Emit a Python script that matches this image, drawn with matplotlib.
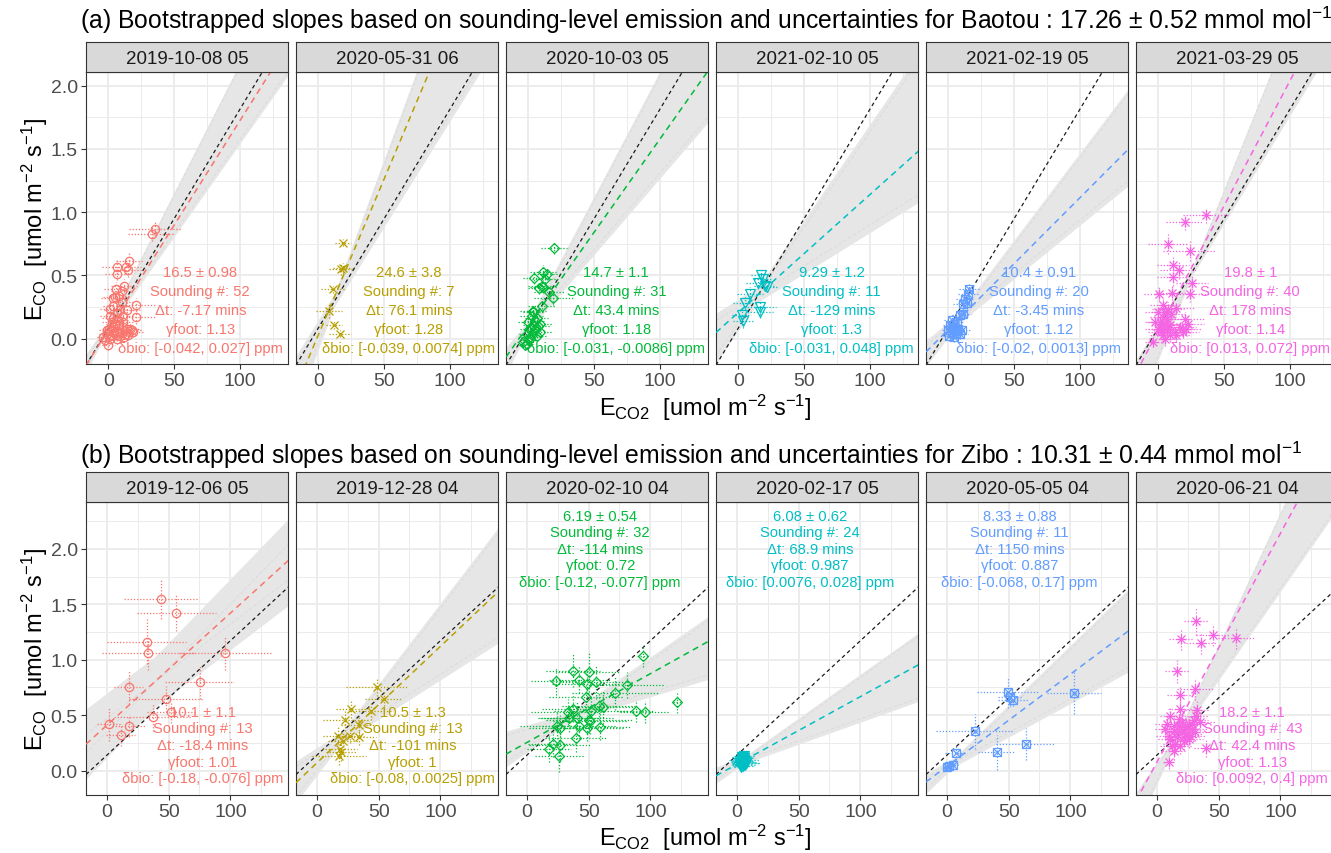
import numpy as np
import matplotlib.pyplot as plt

plt.rcParams['font.family'] = ['Liberation Sans', 'DejaVu Sans']
plt.rcParams['mathtext.fontset'] = 'custom'
plt.rcParams['mathtext.rm'] = 'Liberation Sans'
plt.rcParams['mathtext.it'] = 'Liberation Sans:italic'
plt.rcParams['mathtext.bf'] = 'Liberation Sans:bold'

# === facet labels ===
baotou_dates = ['2019-10-08 05', '2020-05-31 06', '2020-10-03 05',
                '2021-02-10 05', '2021-02-19 05', '2021-03-29 05']
zibo_dates = ['2019-12-06 05', '2019-12-28 04', '2020-02-10 04',
              '2020-02-17 05', '2020-05-05 04', '2020-06-21 04']

# === Baotou soundings (E_CO2, E_CO, and their uncertainties) ===
b1_x = [35.5, 33, 16, 6.9, 13.5, 15.2, 6.3, 12, 5.8, 10.2, 8.4, 3.3, 21, 3.8, 10.2, 21, 6.3, 1.3, 11.4, 2.5,
        5, 8.4, 11, 14, 17.8, 0.8, 3.8, 6.9, 10.2, 13.5, -1.3, 2.5, 5.8, 8.9, -2.5, 0, -3.8, 3.8, 7.6, 11.4,
        1.3, 8.9, 5, 14, 16.5, 19, 15, 12, 1.3, 6.9, -0.8, 3.3]
b1_y = [0.87, 0.83, 0.61, 0.57, 0.57, 0.545, 0.51, 0.42, 0.395, 0.38, 0.34, 0.32, 0.27, 0.26, 0.29, 0.17,
        0.2, 0.18, 0.18, 0.13, 0.12, 0.105, 0.09, 0.08, 0.066, 0.08, 0.066, 0.053, 0.053, 0.04, 0.04, 0.026,
        0.026, 0.02, -0.013, -0.053, 0.013, 0.092, 0.145, 0.13, 0.237, 0.224, 0.33, 0.23, 0.08, 0.053, 0.03,
        0.013, 0.0, 0.0, 0.066, 0.16]
b1_xerr = [20, 18, 10, 12, 11, 10, 9, 10, 9, 8, 8, 9, 15, 8, 9, 15, 7, 8, 8, 7, 7, 8, 8, 9, 8, 6, 7, 7, 8, 8,
           6, 7, 7, 8, 5, 5, 5, 7, 8, 8, 8, 12, 9, 10, 8, 8, 7, 7, 6, 7, 6, 8]
b1_yerr = [0.06, 0.06, 0.07, 0.06, 0.06, 0.06, 0.05, 0.05, 0.05, 0.05, 0.05, 0.05, 0.05, 0.05, 0.05, 0.05,
           0.05, 0.05, 0.05, 0.04, 0.04, 0.04, 0.04, 0.04, 0.04, 0.04, 0.04, 0.04, 0.04, 0.04, 0.04, 0.04,
           0.04, 0.04, 0.04, 0.04, 0.04, 0.04, 0.04, 0.04, 0.05, 0.05, 0.05, 0.05, 0.04, 0.04, 0.04, 0.04,
           0.04, 0.04, 0.04, 0.04]

b2_x = [19, 17, 18.5, 11.4, 8.1, 12.2, 16.5]
b2_y = [0.76, 0.55, 0.56, 0.39, 0.22, 0.11, 0.04]
b2_xerr = [6, 9, 7, 9, 10, 6, 8]
b2_yerr = [0.03, 0.05, 0.04, 0.03, 0.06, 0.03, 0.03]

b3_x = [19.5, 10.9, 14, 4.6, 10.1, 11.4, 16, 19, 10.1, 3.8, 2.5, 6.3, 0, 3.8, 7.6, 1.3, 5, 8.9, -1.3, 2.5,
        -3.8, -2.5, 6.3, 3.8, 8.9, 1.3, -1.3, 12.7, 8.4, 5, 0.8]
b3_y = [0.716, 0.53, 0.51, 0.48, 0.42, 0.41, 0.37, 0.32, 0.26, 0.22, 0.18, 0.163, 0.13, 0.11, 0.1, 0.08,
        0.066, 0.053, 0.04, 0.03, -0.026, -0.053, 0.02, 0.21, 0.118, 0.013, -0.04, 0.47, 0.4, 0.137, -0.013]
b3_xerr = [10, 10, 10, 9, 10, 10, 12, 15, 10, 10, 9, 9, 8, 8, 9, 8, 8, 9, 6, 7, 5, 5, 8, 8, 9, 7, 5, 10, 9, 8, 6]
b3_yerr = [0.05, 0.05, 0.05, 0.05, 0.05, 0.05, 0.05, 0.05, 0.05, 0.05, 0.05, 0.05, 0.05, 0.05, 0.05, 0.05,
           0.04, 0.04, 0.04, 0.04, 0.03, 0.03, 0.04, 0.05, 0.05, 0.04, 0.03, 0.05, 0.05, 0.05, 0.03]

b4_x = [17.3, 15.2, 20.3, 22, 19, 8.9, 5, 16.5, 16.5, 2.5, 3.8]
b4_y = [0.5, 0.44, 0.42, 0.41, 0.47, 0.355, 0.28, 0.25, 0.21, 0.184, 0.137]
b4_xerr = [8, 9, 8, 8, 7, 10, 9, 12, 10, 7, 8]
b4_yerr = [0.04, 0.05, 0.04, 0.04, 0.04, 0.05, 0.05, 0.05, 0.05, 0.05, 0.05]

b5_x = [16, 15.2, 12.7, 10.9, 14, 11.4, 8.9, 2.5, 6.3, 1.3, 3.8, 7.6, 0, 2.5, 5.8, 8.9, 0.8, 4.3, 6.9, 10.2]
b5_y = [0.395, 0.355, 0.316, 0.276, 0.28, 0.197, 0.184, 0.145, 0.13, 0.105, 0.092, 0.079, 0.066, 0.053,
        0.04, 0.04, 0.02, 0.013, 0.079, 0.066]
b5_xerr = [8, 8, 7, 7, 7, 6, 6, 6, 6, 5, 6, 6, 5, 5, 6, 6, 5, 5, 6, 7]
b5_yerr = [0.04, 0.04, 0.04, 0.04, 0.04, 0.04, 0.04, 0.04, 0.04, 0.04, 0.04, 0.04, 0.04, 0.04, 0.04,
           0.04, 0.04, 0.04, 0.04, 0.04]

b6_x = [36.4, 20.1, 7.5, 23.9, 11.3, 15.6, 11.3, 25.6, 0.8, 10.6, 23.9, 3.8, 7.5, 13.8, 0, 3.8, 6.3, 20.1,
        1.3, 5, 8.8, 16.3, 21.4, 2.5, 6.3, 12.6, 18.8, 3.8, 13.8, 5, -3.8, -2.5, 10, 2, 7.5, 22.6, 0, 8.8,
        4.5, 18]
b6_y = [0.974, 0.92, 0.75, 0.69, 0.584, 0.54, 0.487, 0.442, 0.355, 0.363, 0.353, 0.263, 0.237, 0.242,
        0.21, 0.17, 0.158, 0.158, 0.13, 0.118, 0.11, 0.092, 0.08, 0.08, 0.066, 0.053, 0.053, 0.026, 0.026,
        -0.005, -0.026, 0.13, 0.197, 0.053, 0.092, 0.118, 0.08, 0.026, 0.21, 0.074]
b6_xerr = [18, 14, 15, 20, 12, 14, 12, 12, 12, 12, 15, 10, 12, 14, 10, 10, 12, 15, 10, 10, 10, 12, 12, 10,
           10, 12, 12, 10, 10, 10, 6, 8, 12, 10, 10, 12, 10, 10, 10, 10]
b6_yerr = [0.06, 0.06, 0.08, 0.08, 0.07, 0.07, 0.07, 0.06, 0.06, 0.06, 0.06, 0.05, 0.05, 0.05, 0.05, 0.05,
           0.05, 0.05, 0.05, 0.05, 0.05, 0.05, 0.05, 0.05, 0.05, 0.05, 0.05, 0.05, 0.05, 0.05, 0.04, 0.04,
           0.05, 0.05, 0.05, 0.05, 0.05, 0.05, 0.05, 0.05]

# === Zibo soundings ===
z1_x = [44, 56.2, 32.4, 33.2, 96, 17.6, 75.1, 47.6, 52.2, 37.3, 1.6, 17.8, 11.1]
z1_y = [1.55, 1.42, 1.164, 1.06, 1.06, 0.75, 0.8, 0.647, 0.532, 0.48, 0.42, 0.406, 0.322]
z1_xerr = [30, 32, 32, 37, 38, 12, 28, 30, 20, 32, 10, 14, 12]
z1_yerr = [0.18, 0.16, 0.2, 0.15, 0.15, 0.15, 0.15, 0.12, 0.1, 0.12, 0.15, 0.1, 0.1]

z2_x = [48.6, 54.3, 27.8, 44, 23, 33.8, 26.5, 33.8, 17, 21, 18.4, 17.8, 19.7]
z2_y = [0.75, 0.647, 0.557, 0.535, 0.46, 0.41, 0.316, 0.3, 0.316, 0.27, 0.196, 0.135, 0.165]
z2_xerr = [25, 15, 12, 18, 18, 14, 12, 14, 12, 12, 14, 22, 12]
z2_yerr = [0.08, 0.06, 0.08, 0.08, 0.1, 0.08, 0.07, 0.07, 0.08, 0.08, 0.08, 0.08, 0.08]

z3_x = [94.3, 121.5, 37.6, 49.9, 23.4, 42.5, 48.5, 56.1, 80.7, 71.1, 48, 37, 58, 61.6, 52, 33, 88.3, 95.6,
        34.3, 40.3, 50.1, 24, 42, 58.9, 48.5, 26.7, 39.8, 20.7, 26.7, 18, 26.2, 50.7]
z3_y = [1.03, 0.617, 0.9, 0.887, 0.806, 0.82, 0.78, 0.8, 0.773, 0.7, 0.66, 0.56, 0.58, 0.57, 0.54, 0.53,
        0.54, 0.526, 0.47, 0.47, 0.46, 0.406, 0.406, 0.397, 0.385, 0.385, 0.29, 0.24, 0.232, 0.196, 0.135, 0.45]
z3_xerr = [5, 3, 22, 25, 20, 25, 28, 30, 30, 35, 30, 25, 30, 25, 30, 30, 15, 20, 25, 30, 35, 30, 30, 25,
           30, 25, 25, 20, 25, 18, 20, 30]
z3_yerr = [0.1, 0.1, 0.15, 0.18, 0.12, 0.12, 0.12, 0.15, 0.12, 0.15, 0.12, 0.12, 0.12, 0.15, 0.12, 0.12,
           0.1, 0.1, 0.12, 0.15, 0.12, 0.12, 0.12, 0.12, 0.12, 0.12, 0.12, 0.12, 0.15, 0.12, 0.15, 0.12]

z4_x = [2.1, 3.4, 4.6, 5.2, 6.3, 7.5, 3.8, 4.1, 5.9, 1.8, 6.8, 4.4, 5.5, 2.9, 6.1, 3.6, 5.0, 4.0, 4.9, 2.6,
        7.0, 4.7, 3.1, 5.7]
z4_y = [0.05, 0.085, 0.1, 0.06, 0.09, 0.07, 0.12, 0.04, 0.11, 0.065, 0.055, 0.085, 0.095, 0.03, 0.075,
        0.06, 0.08, 0.105, 0.045, 0.09, 0.07, 0.115, 0.05, 0.13]
z4_xerr = [6, 8, 5, 9, 7, 11, 8, 6, 9, 5, 8, 7, 12, 5, 9, 6, 10, 5, 8, 6, 11, 7, 5, 8]
z4_yerr = [0.03, 0.04, 0.03, 0.03, 0.04, 0.03, 0.04, 0.03, 0.03, 0.03, 0.04, 0.03, 0.03, 0.03, 0.04,
           0.03, 0.03, 0.04, 0.03, 0.03, 0.03, 0.04, 0.03, 0.03]

z5_x = [102.7, 49.5, 51.4, 53.5, 22.4, 63.8, 40.5, 7.6, 1.6, 4.9, 0]
z5_y = [0.7, 0.707, 0.66, 0.64, 0.355, 0.24, 0.165, 0.16, 0.045, 0.054, 0.036]
z5_xerr = [22, 25, 10, 12, 31, 24, 15, 9, 4, 4, 3]
z5_yerr = [0.19, 0.14, 0.08, 0.06, 0.16, 0.14, 0.16, 0.06, 0.04, 0.04, 0.03]

z6_x = [31.9, 19.7, 35.7, 45.4, 64.3, 16.2, 31, 18.4, 18.9, 32.4, 10.8, 8.1, 17.6, 25.7, 29.7, 13.5, 20.3,
        24.3, 28.4, 9.5, 16.2, 22.2, 14.9, 18.9, 12.2, 27, 31.9, 40, 9.5, 23, 17.6, 13.5, 20.3, 24.3, 28.4,
        10.8, 21.6, 25.7, 16.2, 31, 6.8, 35.1, 14]
z6_y = [1.345, 1.19, 1.15, 1.22, 1.194, 0.894, 0.737, 0.683, 0.557, 0.55, 0.49, 0.42, 0.406, 0.42, 0.46,
        0.36, 0.346, 0.33, 0.376, 0.316, 0.3, 0.3, 0.24, 0.226, 0.226, 0.316, 0.496, 0.2, 0.075, 0.39,
        0.466, 0.406, 0.436, 0.376, 0.42, 0.286, 0.27, 0.286, 0.346, 0.346, 0.376, 0.436, 0.18]
z6_xerr = [10, 10, 12, 14, 15, 10, 15, 10, 10, 10, 8, 10, 10, 12, 12, 10, 12, 12, 12, 10, 10, 12, 10, 10,
           10, 12, 10, 10, 5, 10, 10, 10, 10, 10, 12, 10, 10, 12, 10, 12, 8, 12, 10]
z6_yerr = [0.12, 0.1, 0.1, 0.1, 0.1, 0.1, 0.1, 0.08, 0.08, 0.08, 0.08, 0.08, 0.08, 0.08, 0.08, 0.08, 0.08,
           0.08, 0.08, 0.08, 0.08, 0.08, 0.08, 0.08, 0.08, 0.08, 0.08, 0.08, 0.06, 0.08, 0.08, 0.08, 0.08,
           0.08, 0.08, 0.08, 0.08, 0.08, 0.08, 0.08, 0.08, 0.08, 0.08]

# === regression results per overpass ===
baotou_fit_slope = [0.0165, 0.0246, 0.0147, 0.0093, 0.0104, 0.0197]
baotou_fit_icpt = [0.07, 0.03, 0.105, 0.207, 0.072, 0.064]
zibo_fit_slope = [0.0101, 0.0105, 0.0062, 0.0061, 0.0083, 0.0206]
zibo_fit_icpt = [0.41, 0.07, 0.254, 0.057, 0.039, 0.078]

# bootstrap spread: steepest / shallowest lines (slope, intercept) and half width
baotou_boot_steep = [(0.0204, 0.107), (0.0281, -0.037), (0.0197, 0.10), (0.0151, 0.124), (0.01372, 0.054), (0.0258, -0.135)]
baotou_boot_flat = [(0.0147, 0.10), (0.01667, 0.10), (0.01206, 0.10), (0.00645, 0.253), (0.00845, 0.091), (0.017, 0.09)]
baotou_boot_w = [0.03, 0.05, 0.04, 0.06, 0.04, 0.03]
zibo_boot_steep = [(0.0115, 0.35), (0.01451, 0.01), (0.0078, 0.206), (0.0079, 0.05), (0.01075, 0.016), (0.0239, -0.09)]
zibo_boot_flat = [(0.0085, 0.47), (0.0071, 0.158), (0.00334, 0.372), (0.00397, 0.07), (0.00605, 0.04), (0.016, 0.046)]
zibo_boot_w = [0.23, 0.05, 0.04, 0.03, 0.04, 0.03]

# city-wide mean ratio line
city_slope = [0.01726, 0.01031]
city_icpt = [0.084, 0.14]

# === annotation values ===
baotou_ratio = ['16.5 ± 0.98', '24.6 ± 3.8', '14.7 ± 1.1', '9.29 ± 1.2', '10.4 ± 0.91', '19.8 ± 1']
baotou_n = [52, 7, 31, 11, 20, 40]
baotou_dt = ['-7.17', '76.1', '43.4', '-129', '-3.45', '178']
baotou_gamma = ['1.13', '1.28', '1.18', '1.3', '1.12', '1.14']
baotou_dbio = ['[-0.042, 0.027]', '[-0.039, 0.0074]', '[-0.031, -0.0086]', '[-0.031, 0.048]',
               '[-0.02, 0.0013]', '[0.013, 0.072]']
zibo_ratio = ['10.1 ± 1.1', '10.5 ± 1.3', '6.19 ± 0.54', '6.08 ± 0.62', '8.33 ± 0.88', '18.2 ± 1.1']
zibo_n = [13, 13, 32, 24, 11, 43]
zibo_dt = ['-18.4', '-101', '-114', '68.9', '1150', '42.4']
zibo_gamma = ['1.01', '1', '0.72', '0.987', '0.887', '1.13']
zibo_dbio = ['[-0.18, -0.076]', '[-0.08, 0.0025]', '[-0.12, -0.077]', '[0.0076, 0.028]',
             '[-0.068, 0.17]', '[0.0092, 0.4]']
baotou_txt_xy = [(70, 0.53), (69, 0.53), (67, 0.53), (71, 0.53), (69, 0.53), (70, 0.53)]
zibo_txt_xy = [(77.6, 0.53), (77.6, 0.53), (59.4, 2.3), (59.4, 2.3), (59, 2.3), (77.3, 0.53)]

colors = ['#F8766D', '#B79F00', '#00BA38', '#00BFC4', '#619CFF', '#F564E3']
shapes = ['circle', 'x', 'diamond', 'tri', 'squarex', 'star']

rows = [
    dict(dates=baotou_dates,
         xs=[b1_x, b2_x, b3_x, b4_x, b5_x, b6_x], ys=[b1_y, b2_y, b3_y, b4_y, b5_y, b6_y],
         xe=[b1_xerr, b2_xerr, b3_xerr, b4_xerr, b5_xerr, b6_xerr],
         ye=[b1_yerr, b2_yerr, b3_yerr, b4_yerr, b5_yerr, b6_yerr],
         fs=baotou_fit_slope, fi=baotou_fit_icpt, steep=baotou_boot_steep, flat=baotou_boot_flat,
         w=baotou_boot_w, ratio=baotou_ratio, n=baotou_n, dt=baotou_dt, gam=baotou_gamma,
         dbio=baotou_dbio, txy=baotou_txt_xy,
         xlim=(-17, 137), ylim=(-0.2, 2.105), strip_top=42.5, top=73.3, bottom=365,
         title='(a) Bootstrapped slopes based on sounding-level emission and uncertainties for Baotou : '
               '17.26 ± 0.52 mmol mol$^{-1}$', title_y=20, xlab_y=408),
    dict(dates=zibo_dates,
         xs=[z1_x, z2_x, z3_x, z4_x, z5_x, z6_x], ys=[z1_y, z2_y, z3_y, z4_y, z5_y, z6_y],
         xe=[z1_xerr, z2_xerr, z3_xerr, z4_xerr, z5_xerr, z6_xerr],
         ye=[z1_yerr, z2_yerr, z3_yerr, z4_yerr, z5_yerr, z6_yerr],
         fs=zibo_fit_slope, fi=zibo_fit_icpt, steep=zibo_boot_steep, flat=zibo_boot_flat,
         w=zibo_boot_w, ratio=zibo_ratio, n=zibo_n, dt=zibo_dt, gam=zibo_gamma,
         dbio=zibo_dbio, txy=zibo_txt_xy,
         xlim=(-17, 147), ylim=(-0.22, 2.42), strip_top=473.3, top=503.3, bottom=796,
         title='(b) Bootstrapped slopes based on sounding-level emission and uncertainties for Zibo : '
               '10.31 ± 0.44 mmol mol$^{-1}$', title_y=455, xlab_y=838),
]

W, H = 1331, 854
fig = plt.figure(figsize=(W / 100, H / 100), dpi=100)
panel_w = 202.3
grid_c = '#EBEBEB'
edge_c = '#333333'


def draw_marker(ax, x, y, col, shape):
    kw = dict(ls='none', color=col, mfc='none', mew=0.9, zorder=5)
    if shape == 'circle':
        ax.plot(x, y, marker='o', ms=6, **kw)
    elif shape == 'x':
        ax.plot(x, y, marker='x', ms=5.5, **kw)
    elif shape == 'diamond':
        ax.plot(x, y, marker='D', ms=5.5, **kw)
    elif shape == 'tri':
        ax.plot(x, y, marker='v', ms=7, **kw)
    elif shape == 'squarex':
        ax.plot(x, y, marker='s', ms=5.5, **kw)
        ax.plot(x, y, marker='x', ms=5.5, **kw)
    else:
        ax.plot(x, y, marker='+', ms=7.5, **kw)
        ax.plot(x, y, marker='x', ms=5.5, **kw)


for r, row in enumerate(rows):
    for i in range(6):
        left = 86 + 210 * i
        ax = fig.add_axes([left / W, 1 - row['bottom'] / H, panel_w / W,
                           (row['bottom'] - row['top']) / H])
        sx = fig.add_axes([left / W, 1 - row['top'] / H, panel_w / W,
                           (row['top'] - row['strip_top']) / H])
        sx.set_facecolor('#D9D9D9')
        sx.set_xticks([])
        sx.set_yticks([])
        for sp in sx.spines.values():
            sp.set_color(edge_c)
            sp.set_linewidth(0.8)
        sx.text(0.5, 0.45, row['dates'][i], transform=sx.transAxes, ha='center', va='center',
                fontsize=13.5, color='#1A1A1A')

        x0, x1 = row['xlim']
        col = colors[i]
        xx = np.linspace(x0, x1, 300)

        # bootstrap fan
        s1, c1 = row['steep'][i]
        s2, c2 = row['flat'][i]
        l1 = c1 + s1 * xx
        l2 = c2 + s2 * xx
        w = row['w'][i]
        ax.fill_between(xx, np.minimum(l1, l2) - w, np.maximum(l1, l2) + w, color='#E6E6E6',
                        lw=0, zorder=1)
        ax.plot(xx, l1, color='#DCDCDC', lw=0.8, ls=(0, (3, 2)), zorder=1.2)
        ax.plot(xx, l2, color='#DCDCDC', lw=0.8, ls=(0, (3, 2)), zorder=1.2)

        # city-wide line and per-overpass fit
        ax.plot(xx, city_icpt[r] + city_slope[r] * xx, color='#1A1A1A', lw=0.9,
                ls=(0, (3, 2.5)), zorder=3)
        ax.plot(xx, row['fi'][i] + row['fs'][i] * xx, color=col, lw=1.1,
                ls=(0, (4, 3)), zorder=3.5)

        # sounding points with dotted uncertainty bars
        px = np.array(row['xs'][i])
        py = np.array(row['ys'][i])
        ex = np.array(row['xe'][i])
        ey = np.array(row['ye'][i])
        ax.hlines(py, px - ex, px + ex, colors=col, linestyles=(0, (1, 1.5)), lw=0.9, zorder=4)
        ax.vlines(px, py - ey, py + ey, colors=col, linestyles=(0, (1, 1.5)), lw=0.9, zorder=4)
        draw_marker(ax, px, py, col, shapes[i])

        # annotation
        tx, ty = row['txy'][i]
        lines = [row['ratio'][i], 'Sounding #: %d' % row['n'][i], 'Δt: %s mins' % row['dt'][i],
                 'γfoot: %s' % row['gam'][i], 'δbio: %s ppm' % row['dbio'][i]]
        for k, s in enumerate(lines):
            ax.text(tx, ty - 0.15 * k, s, ha='center', va='center', fontsize=10.6, color=col, zorder=6)

        # theme_bw look
        ax.set_xticks([0, 50, 100])
        ax.set_xticks([-25, 25, 75, 125], minor=True)
        ax.set_yticks([0, 0.5, 1.0, 1.5, 2.0])
        ax.set_yticks([0.25, 0.75, 1.25, 1.75, 2.25], minor=True)
        ax.set_yticklabels(['0.0', '0.5', '1.0', '1.5', '2.0'])
        ax.set_xlim(x0, x1)
        ax.set_ylim(*row['ylim'])
        ax.grid(which='major', color=grid_c, lw=1.3, zorder=0)
        ax.grid(which='minor', color=grid_c, lw=0.7, zorder=0)
        ax.set_axisbelow(True)
        ax.tick_params(which='minor', length=0)
        ax.tick_params(which='major', length=3.5, width=0.8, color=edge_c, labelsize=14,
                       labelcolor='#4D4D4D', pad=2.5)
        if i > 0:
            ax.tick_params(axis='y', which='both', left=False, labelleft=False)
        for sp in ax.spines.values():
            sp.set_color(edge_c)
            sp.set_linewidth(0.8)

    fig.text(80 / W, 1 - row['title_y'] / H, row['title'], ha='left', va='center', fontsize=17.8)
    fig.text(705 / W, 1 - row['xlab_y'] / H, r'E$_{\mathrm{CO2}}$  [umol m$^{-2}$ s$^{-1}$]',
             ha='center', va='center', fontsize=17)
    fig.text(35 / W, 1 - (row['top'] + row['bottom']) / 2 / H,
             r'E$_{\mathrm{CO}}$  [umol m$^{-2}$ s$^{-1}$]', rotation=90, ha='center', va='center',
             fontsize=17)

fig.savefig('out.png', dpi=100)
